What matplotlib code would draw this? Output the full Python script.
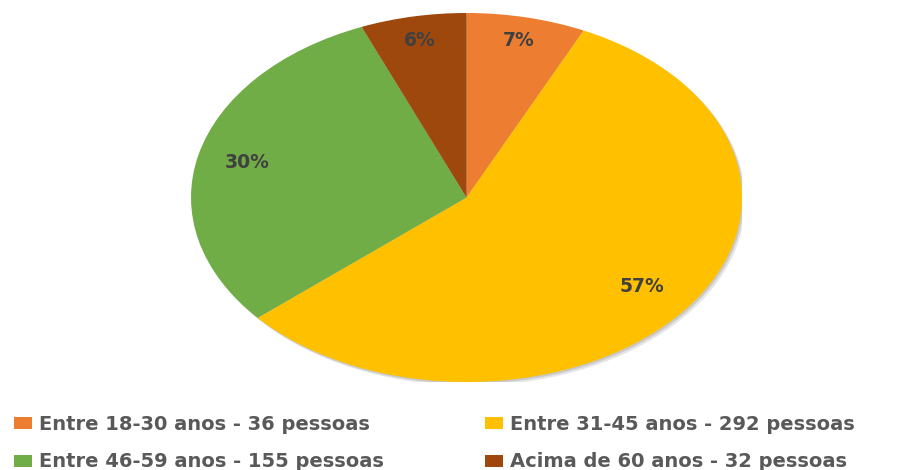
import numpy as np
import matplotlib.pyplot as plt
from matplotlib.patches import Ellipse

# faixas etárias e número de pessoas
faixas = ['Entre 18-30 anos', 'Entre 31-45 anos', 'Entre 46-59 anos', 'Acima de 60 anos']
pessoas = [36, 292, 155, 32]
cores = ['#ED7D31', '#FFC000', '#70AD47', '#9E480E']

total = sum(pessoas)
rotulos = [f'{f} - {p} pessoas' for f, p in zip(faixas, pessoas)]

fig = plt.figure(figsize=(9.17, 4.70), dpi=100)
W, H = 917, 470

# área da pizza (elipse achatada como no gráfico original)
ax = fig.add_axes([191 / W, (H - 382) / H, 551 / W, 369 / H])
# sombra leve
for k, a in [(0.012, 0.10), (0.006, 0.12)]:
    ax.add_patch(Ellipse((k, -1.6 * k), 2, 2, color='black', alpha=a, lw=0, zorder=0))
fatias, _ = ax.pie(pessoas, colors=cores, startangle=90, counterclock=False,
                   wedgeprops=dict(linewidth=0, zorder=1))
ax.set_aspect('auto')
ax.set_xlim(-1, 1)
ax.set_ylim(-1, 1)

# percentuais dentro das fatias
dist = [0.87, 0.80, 0.82, 0.87]
for w, p, r in zip(fatias, pessoas, dist):
    ang = np.deg2rad((w.theta1 + w.theta2) / 2)
    ax.text(r * np.cos(ang), r * np.sin(ang), f'{round(p / total * 100)}%',
            ha='center', va='center', fontsize=13.5, fontweight='bold',
            color='#404040', family='DejaVu Sans', zorder=3)

# legenda em duas colunas abaixo da pizza (uma legenda por coluna)
fonte = dict(family='DejaVu Sans', weight='bold', size=14)
for col, x0 in [(0, 14), (1, 485)]:
    idx = [col, col + 2]
    leg = fig.legend([fatias[i] for i in idx], [rotulos[i] for i in idx],
                     loc='upper left', bbox_to_anchor=(x0 / W, (H - 415) / H),
                     frameon=False, prop=fonte, borderpad=0, borderaxespad=0,
                     handlelength=0.93, handleheight=0.56, handletextpad=0.35,
                     labelspacing=0.95)
    for t in leg.get_texts():
        t.set_color('#595959')

fig.savefig('out.png', dpi=100)
